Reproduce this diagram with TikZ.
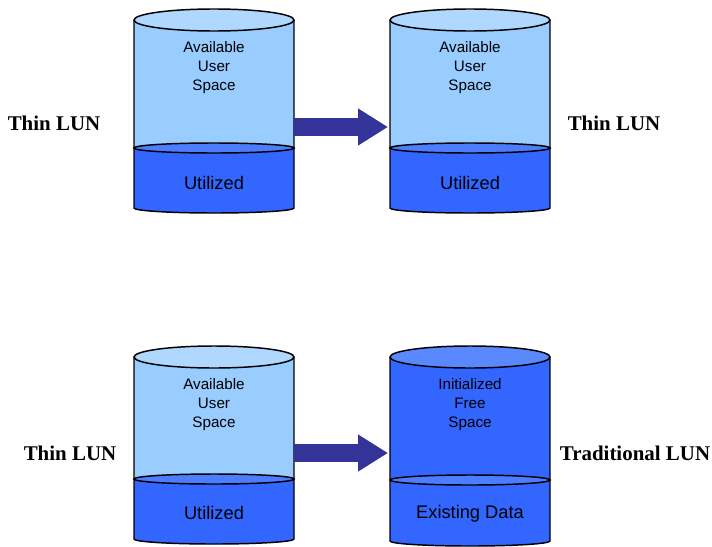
\documentclass[tikz,border=0pt]{standalone}
\usepackage{fontspec}
\setmainfont{Liberation Serif}
\newfontfamily\arialfont{Liberation Sans}
\usetikzlibrary{arrows.meta,positioning}

\definecolor{lunlight}{HTML}{99CCFF}
\definecolor{luncap}{HTML}{B0D8FF}
\definecolor{lundark}{HTML}{3366FF}
\definecolor{lunmid}{HTML}{4D7DFF}
\definecolor{lundarkcap}{HTML}{5A88FF}
\definecolor{arrowblue}{HTML}{333399}

\tikzset{
  lunedge/.style={draw=black,line width=1.1pt},
  lunnote/.style={font=\arialfont\fontsize{11.4pt}{14.25pt}\selectfont,align=center,inner sep=0pt},
  lunfill/.style={font=\arialfont\fontsize{13.7pt}{16pt}\selectfont,inner sep=0pt},
  lunname/.style={font=\bfseries\fontsize{15.7pt}{18pt}\selectfont,inner sep=0pt},
  drum/.style={minimum width=120pt,minimum height=0pt,inner sep=0pt,outer sep=0pt},
  blockarrow/.style={line width=13.5pt,arrowblue,shorten >=1.5pt,
    -{Triangle[length=22.5pt,width=26.25pt]}}
}

% a two-tone drum: centre x, top, level line, bottom, upper fill, cap fill
\newcommand\lundrum[6]{%
  \fill[#5] (#1-80,#2) rectangle (#1+80,#3);
  \fill[lundark] (#1-80,#3) -- (#1-80,#4)
    arc[start angle=180,end angle=360,x radius=60pt,y radius=3.75pt] -- (#1+80,#3) -- cycle;
  \filldraw[lunedge,fill=lunmid] (#1,#3) ellipse[x radius=60pt,y radius=3.75pt];
  \draw[lunedge] (#1-80,#2) -- (#1-80,#4)
    arc[start angle=180,end angle=360,x radius=60pt,y radius=3.75pt] -- (#1+80,#2);
  \filldraw[lunedge,fill=#6] (#1,#2) ellipse[x radius=60pt,y radius=8.25pt];
}

\begin{document}
\begin{tikzpicture}[x=0.75pt,y=-0.75pt]
  \useasboundingbox (0,0) rectangle (712,546);

  % upper pair
  \lundrum{214}{20}{148}{208}{lunlight}{luncap}
  \lundrum{470}{20}{148}{208}{lunlight}{luncap}
  % lower pair
  \lundrum{214}{357}{479}{539}{lunlight}{luncap}
  \lundrum{470}{357}{480}{541}{lundark}{lundarkcap}

  \node[drum] (dA) at (214,127) {};
  \node[drum] (dB) at (470,127) {};
  \node[drum] (dC) at (214,453) {};
  \node[drum] (dD) at (470,453) {};

  \node[lunnote] (freeA) at (214,68) {Available\\User\\Space};
  \node[lunnote] (freeB) at (470,68) {Available\\User\\Space};
  \node[lunnote] (freeC) at (214,405) {Available\\User\\Space};
  \node[lunnote] (freeD) at (470,405) {Initialized\\Free\\Space};

  \node[lunfill] (usedA) at (214,183) {Utilized};
  \node[lunfill] (usedB) at (470,183) {Utilized};
  \node[lunfill] (usedC) at (214,513) {Utilized};
  \node[lunfill] (usedD) at (470,514) {Existing Data};

  \node[lunname] (nameA) at (54,123) {Thin LUN};
  \node[lunname] (nameB) at (614,123) {Thin LUN};
  \node[lunname] (nameC) at (70,453) {Thin LUN};
  \node[lunname] (nameD) at (635,453) {Traditional LUN};

  \draw[blockarrow] (dA.east) -- (dB.west);
  \draw[blockarrow] (dC.east) -- (dD.west);
\end{tikzpicture}
\end{document}
